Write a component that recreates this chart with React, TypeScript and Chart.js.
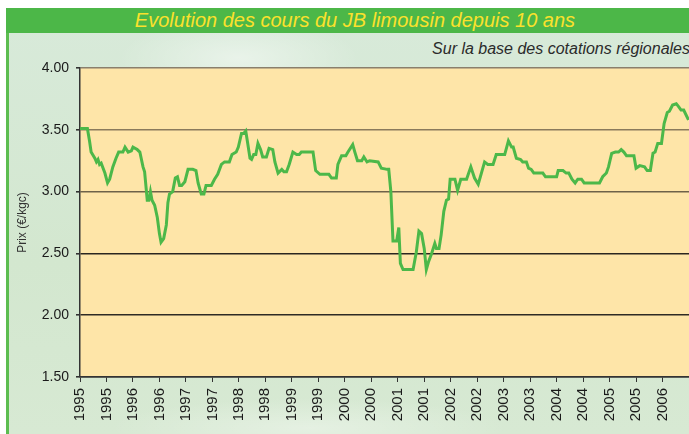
import React, { useEffect, useRef } from "react";
import { Chart, registerables } from "chart.js";

Chart.register(...registerables);

const chartTitle = "Evolution des cours du JB limousin depuis 10 ans";
const chartSubtitle = "Sur la base des cotations régionales";
const yAxisTitle = "Prix (€/kgc)";

const tickLabels = [
  "1995", "1995", "1996", "1996", "1997", "1997", "1998", "1998",
  "1999", "1999", "2000", "2000", "2001", "2001", "2002", "2002",
  "2003", "2003", "2004", "2004", "2005", "2005", "2006",
];

const dates = [
  1995.0, 1995.14, 1995.18, 1995.21, 1995.28, 1995.31, 1995.34, 1995.37, 1995.4, 1995.47,
  1995.52, 1995.56, 1995.62, 1995.68, 1995.73, 1995.81, 1995.85, 1995.91, 1995.97, 1996.0,
  1996.08, 1996.13, 1996.19, 1996.22, 1996.27, 1996.3, 1996.33, 1996.36, 1996.41, 1996.46,
  1996.5, 1996.53, 1996.58, 1996.63, 1996.66, 1996.69, 1996.75, 1996.8, 1996.84, 1996.88,
  1996.92, 1996.98, 1997.04, 1997.13, 1997.19, 1997.23, 1997.29, 1997.34, 1997.38, 1997.48,
  1997.54, 1997.6, 1997.67, 1997.73, 1997.82, 1997.87, 1997.95, 1997.99, 1998.05, 1998.09,
  1998.13, 1998.16, 1998.21, 1998.24, 1998.28, 1998.32, 1998.36, 1998.41, 1998.45, 1998.52,
  1998.57, 1998.64, 1998.68, 1998.74, 1998.81, 1998.85, 1998.9, 1998.95, 1999.02, 1999.09,
  1999.14, 1999.18, 1999.4, 1999.45, 1999.53, 1999.7, 1999.75, 1999.84, 1999.87, 1999.94,
  2000.02, 2000.06, 2000.15, 2000.19, 2000.24, 2000.32, 2000.36, 2000.42, 2000.47, 2000.63,
  2000.69, 2000.8, 2000.83, 2000.87, 2000.91, 2000.98, 2001.02, 2001.05, 2001.1, 2001.29,
  2001.35, 2001.4, 2001.45, 2001.5, 2001.54, 2001.58, 2001.64, 2001.7, 2001.73, 2001.78,
  2001.82, 2001.87, 2001.92, 2001.96, 2001.99, 2002.08, 2002.13, 2002.19, 2002.3, 2002.38,
  2002.45, 2002.52, 2002.58, 2002.64, 2002.7, 2002.8, 2002.86, 2003.02, 2003.09, 2003.15,
  2003.18, 2003.24, 2003.32, 2003.36, 2003.43, 2003.47, 2003.52, 2003.57, 2003.74, 2003.79,
  2004.0, 2004.03, 2004.12, 2004.18, 2004.23, 2004.29, 2004.35, 2004.4, 2004.47, 2004.52,
  2004.81, 2004.87, 2004.94, 2004.98, 2005.04, 2005.11, 2005.17, 2005.22, 2005.27, 2005.32,
  2005.46, 2005.5, 2005.57, 2005.66, 2005.71, 2005.77, 2005.82, 2005.86, 2005.91, 2005.98,
  2006.03, 2006.09, 2006.13, 2006.19, 2006.26, 2006.3, 2006.35, 2006.4, 2006.49,
];

const prices = [
  3.51, 3.51, 3.41, 3.32, 3.27, 3.24, 3.26, 3.22, 3.23, 3.15,
  3.07, 3.1, 3.2, 3.27, 3.32, 3.32, 3.36, 3.32, 3.33, 3.36,
  3.34, 3.32, 3.2, 3.16, 2.93, 2.93, 3.0, 2.93, 2.89, 2.79,
  2.66, 2.59, 2.62, 2.73, 2.91, 2.98, 3.0, 3.11, 3.12, 3.05,
  3.05, 3.08, 3.18, 3.18, 3.17, 3.07, 2.98, 2.98, 3.05, 3.05,
  3.1, 3.14, 3.22, 3.24, 3.24, 3.3, 3.32, 3.36, 3.47, 3.47,
  3.49, 3.41, 3.27, 3.26, 3.3, 3.3, 3.39, 3.34, 3.28, 3.28,
  3.35, 3.34, 3.24, 3.15, 3.18, 3.16, 3.16, 3.22, 3.32, 3.3,
  3.3, 3.32, 3.32, 3.17, 3.14, 3.14, 3.11, 3.11, 3.22, 3.29,
  3.29, 3.32, 3.38, 3.32, 3.25, 3.25, 3.28, 3.24, 3.25, 3.24,
  3.19, 3.18, 3.18, 3.0, 2.6, 2.6, 2.71, 2.42, 2.37, 2.37,
  2.51, 2.68, 2.66, 2.54, 2.37, 2.43, 2.5, 2.58, 2.54, 2.54,
  2.65, 2.84, 2.93, 2.94, 3.1, 3.1, 3.01, 3.1, 3.1, 3.2,
  3.11, 3.06, 3.15, 3.24, 3.22, 3.22, 3.3, 3.3, 3.41, 3.36,
  3.36, 3.27, 3.26, 3.24, 3.24, 3.19, 3.18, 3.15, 3.15, 3.12,
  3.12, 3.17, 3.17, 3.15, 3.15, 3.1, 3.07, 3.1, 3.1, 3.07,
  3.07, 3.12, 3.15, 3.2, 3.31, 3.32, 3.32, 3.34, 3.32, 3.29,
  3.29, 3.19, 3.21, 3.2, 3.17, 3.17, 3.31, 3.32, 3.39, 3.39,
  3.55, 3.64, 3.65, 3.7, 3.71, 3.69, 3.66, 3.66, 3.58,
];

const gridColors: Record<string, string> = {
  "4.00": "#8a7f6c",
  "3.50": "#8a7a5c",
  "3.00": "#6e6249",
  "2.50": "#2a2620",
  "2.00": "#2e2a24",
  "1.50": "#333333",
};

const plotBackground = {
  id: "plotBackground",
  beforeDraw(chart: any) {
    const { ctx, chartArea } = chart;
    if (!chartArea) return;
    ctx.save();
    ctx.fillStyle = "#fee5a8";
    ctx.fillRect(chartArea.left, chartArea.top, chartArea.right - chartArea.left, chartArea.bottom - chartArea.top);
    ctx.restore();
  },
};

export default function App() {
  const canvasRef = useRef<HTMLCanvasElement | null>(null);

  useEffect(() => {
    if (!canvasRef.current) return;
    const chart = new Chart(canvasRef.current, {
      type: "line",
      data: {
        datasets: [
          {
            data: dates.map((d, i) => ({ x: d, y: prices[i] })),
            borderColor: "#4cb849",
            borderWidth: 3,
            pointRadius: 0,
            tension: 0,
            fill: false,
          },
        ],
      },
      options: {
        responsive: false,
        animation: false,
        layout: { padding: { top: 68, left: 0, right: 0, bottom: 0 } },
        plugins: { legend: { display: false }, tooltip: { enabled: false } },
        scales: {
          x: {
            type: "linear",
            min: 1995,
            max: 2006.5,
            afterFit: (s: any) => {
              s.height = 57;
              s.paddingLeft = 0;
              s.paddingRight = 0;
            },
            ticks: {
              stepSize: 0.5,
              autoSkip: false,
              minRotation: 90,
              maxRotation: 90,
              padding: 6,
              color: "#1a1a1a",
              font: { family: "'Liberation Sans', Arial, sans-serif", size: 15 },
              callback: (_v: any, i: number) => tickLabels[i] ?? "",
            },
            grid: { drawOnChartArea: false, drawTicks: true, tickLength: 5, color: "#333333", lineWidth: 1 },
            border: { display: true, color: "#333333", width: 1.5 },
          },
          y: {
            min: 1.5,
            max: 4,
            afterFit: (s: any) => {
              s.width = 80;
            },
            ticks: {
              stepSize: 0.5,
              padding: 7,
              color: "#1a1a1a",
              font: { family: "'Liberation Sans', Arial, sans-serif", size: 14 },
              callback: (v: any) => Number(v).toFixed(2),
            },
            grid: {
              color: (ctx: any) => gridColors[Number(ctx.tick?.value).toFixed(2)] || "#333333",
              lineWidth: 1.6,
              tickLength: 4,
              tickColor: "#333333",
              drawTicks: true,
            },
            border: { display: true, color: "#333333", width: 1.5 },
            title: {
              display: true,
              text: yAxisTitle,
              color: "#333333",
              font: { family: "'Liberation Sans', Arial, sans-serif", size: 12 },
              padding: { top: 15, bottom: 0 },
            },
          },
        },
      },
      plugins: [plotBackground],
    });
    return () => chart.destroy();
  }, []);

  return (
    <div
      style={{
        position: "fixed",
        left: 0,
        top: 0,
        width: 689,
        height: 434,
        overflow: "hidden",
        background: "#ffffff",
        fontFamily: "'Liberation Sans', Arial, sans-serif",
      }}
    >
      <div
        style={{
          position: "absolute",
          left: 6,
          top: 8,
          width: 683,
          height: 426,
          background:
            "radial-gradient(ellipse 120px 40px at 230px 50px, rgba(255,255,255,0.45), rgba(255,255,255,0)), radial-gradient(ellipse 200px 30px at 300px 420px, rgba(255,255,255,0.35), rgba(255,255,255,0)), linear-gradient(180deg, #d8eada 0%, #d3e7cf 60%, #d7e9d3 100%)",
          borderLeft: "3px solid #5cbd50",
          boxSizing: "border-box",
        }}
      />
      <div
        style={{
          position: "absolute",
          left: 6,
          top: 8,
          width: 683,
          height: 25,
          background: "#4cb748",
        }}
      />
      <div
        style={{
          position: "absolute",
          left: 6,
          top: 8,
          width: 698,
          height: 25,
          lineHeight: "25px",
          textAlign: "center",
          color: "#fbe12c",
          fontStyle: "italic",
          fontSize: 20,
          whiteSpace: "nowrap",
        }}
      >
        {chartTitle}
      </div>
      <div
        style={{
          position: "absolute",
          right: -1,
          top: 40,
          lineHeight: "18px",
          color: "#2b2b2b",
          fontStyle: "italic",
          fontSize: 16,
          whiteSpace: "nowrap",
        }}
      >
        {chartSubtitle}
      </div>
      <canvas
        ref={canvasRef}
        width={689}
        height={434}
        style={{ position: "absolute", left: 0, top: 0, width: 689, height: 434 }}
      />
    </div>
  );
}
